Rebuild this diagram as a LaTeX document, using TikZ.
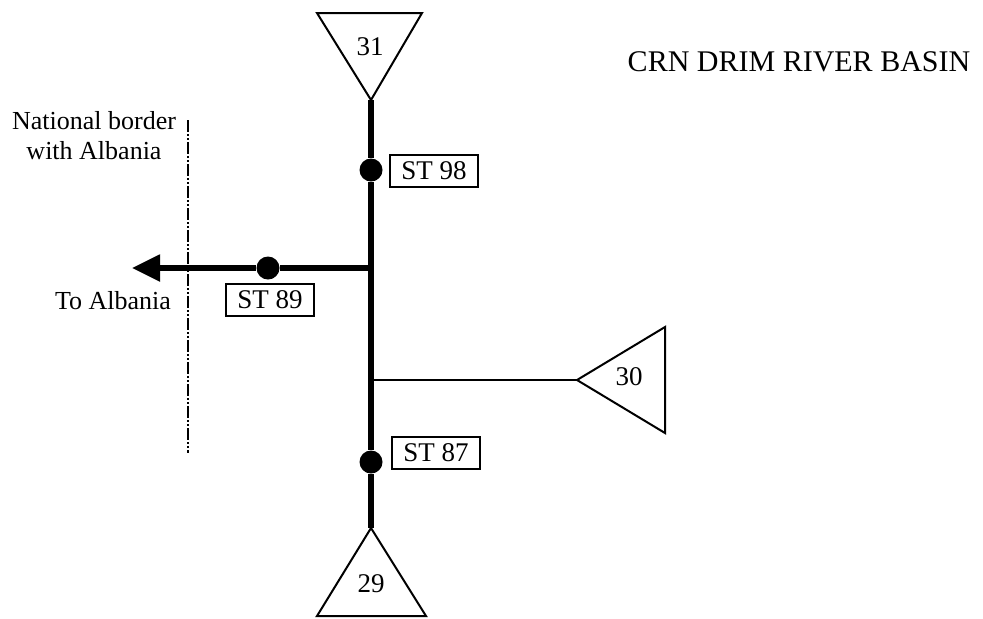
\documentclass[tikz,border=0pt]{standalone}
\usepackage{fontspec}
\setmainfont{Liberation Serif}
\usetikzlibrary{arrows.meta}
\begin{document}
\begin{tikzpicture}[x=0.5pt,y=-0.5pt,
  river/.style={line width=2.6pt},
  thinriver/.style={line width=0.75pt},
  tri/.style={line width=1pt, line join=miter},
  station/.style={circle, fill=black, inner sep=0pt, minimum size=11.5pt},
  stlabel/.style={draw, line width=0.7pt, inner sep=0pt, minimum width=44pt, minimum height=16pt, font=\fontsize{13.5}{15}\selectfont},
  num/.style={font=\fontsize{13.5}{15}\selectfont},
  txt/.style={font=\fontsize{13}{15}\selectfont, align=center, inner sep=0pt},
  border/.style={line width=1pt, dash pattern=on 6pt off 1pt on 1pt off 1pt on 1pt off 1pt}]
\useasboundingbox (0,0) rectangle (983,618);
% triangles
\coordinate (t31) at (371,100);
\draw[tri] (317,13) -- (422,13) -- (t31) -- cycle;
\node[num] (n31) at (370,47) {31};
\coordinate (t29) at (371,528);
\draw[tri] (t29) -- (426,616) -- (317,616) -- cycle;
\node[num] (n29) at (371,584) {29};
\coordinate (t30) at (577,380);
\draw[tri] (t30) -- (665,327) -- (665,433) -- cycle;
\node[num] (n30) at (629,377) {30};
% junctions
\coordinate (j89) at (371,268);
\coordinate (j30) at (371,380);
\coordinate (albania) at (132,268);
% stations
\node[station] (s98) at (371,170) {};
\node[station] (s89) at (268,268) {};
\node[station] (s87) at (371,462) {};
% main river
\draw[river] (t31) -- (s98) -- (j89) -- (j30) -- (s87) -- (t29);
\draw[river, -{Triangle[length=14pt,width=13pt]}] (j89) -- (s89) -- (albania);
\draw[thinriver] (j30) -- (t30);
% station labels
\node[stlabel] (l98) at (434,171) {ST 98};
\node[stlabel] (l89) at (270,300) {ST 89};
\node[stlabel] (l87) at (436,453) {ST 87};
% border
\coordinate (b1) at (188,120);
\coordinate (b2) at (188,453);
\draw[border] (b1) -- (b2);
\node[txt] (nb) at (94,136) {National border\\with Albania};
\node[txt] (ta) at (113,301) {To Albania};
\node[font=\fontsize{15}{17}\selectfont] (title) at (799,62) {CRN DRIM RIVER BASIN};
\end{tikzpicture}
\end{document}
